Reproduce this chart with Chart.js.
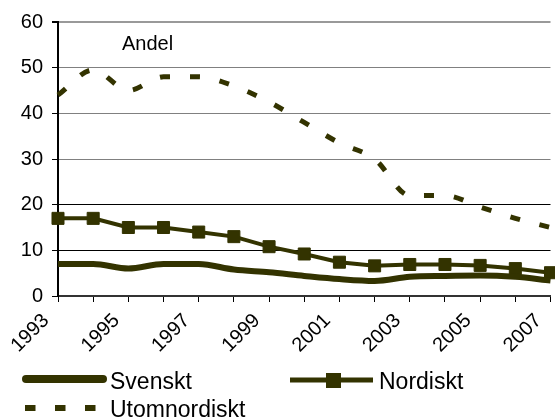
<!DOCTYPE html>
<html>
<head>
<meta charset="utf-8">
<script src="https://cdn.jsdelivr.net/npm/chart.js@4.4.0/dist/chart.umd.min.js"></script>
<style>
  html, body { margin: 0; padding: 0; background: #fff; overflow: hidden; }
  #wrap { position: relative; width: 555px; height: 420px; overflow: hidden; }
  canvas { display: block; }
</style>
</head>
<body>
<div id="wrap"><canvas id="chart" width="560" height="420"></canvas></div>
<script>
// ========== DATA ==========
const years = ['1993', '1994', '1995', '1996', '1997', '1998', '1999', '2000',
               '2001', '2002', '2003', '2004', '2005', '2006', '2007'];
const svenskt = [7, 7, 6, 7, 7, 5.8, 5.2, 4.4, 3.7, 3.3, 4.2, 4.4, 4.5, 4.2, 3.4];
const nordiskt = [17, 17, 15, 15, 14, 13, 10.8, 9.2, 7.4, 6.6, 6.9, 6.9, 6.7, 6.0, 5.1];
const utomnordiskt = [44, 49.5, 45, 48, 48, 46, 42.5, 38, 33.5, 30, 22, 22, 19.5, 17, 15];
const yTicks = [0, 10, 20, 30, 40, 50, 60];
const seriesNames = ['Svenskt', 'Nordiskt', 'Utomnordiskt'];

const OLIVE = '#333300';
const FONT = '"Liberation Sans", Arial, sans-serif';

// ========== PLUGINS ==========
// "Andel" label inside the plot
const andelPlugin = {
    id: 'andel',
    afterDraw(chart) {
        const ctx = chart.ctx;
        ctx.save();
        ctx.font = '20px ' + FONT;
        ctx.fillStyle = '#000';
        ctx.textBaseline = 'alphabetic';
        ctx.fillText('Andel', 122, 50);
        ctx.restore();
    }
};

// legend laid out like the original (two columns, left aligned)
const legendPlugin = {
    id: 'oldLegend',
    afterDraw(chart) {
        const ctx = chart.ctx;
        const ds = chart.data.datasets;
        ctx.save();
        ctx.font = '23px ' + FONT;
        ctx.fillStyle = '#000';
        ctx.textBaseline = 'alphabetic';

        // Svenskt
        ctx.strokeStyle = ds[0].borderColor;
        ctx.lineWidth = 8;
        ctx.lineCap = 'round';
        ctx.beginPath(); ctx.moveTo(26, 379); ctx.lineTo(103, 379); ctx.stroke();
        ctx.fillText(ds[0].label, 110, 389);

        // Nordiskt
        ctx.strokeStyle = ds[1].borderColor;
        ctx.lineWidth = 5;
        ctx.lineCap = 'butt';
        ctx.beginPath(); ctx.moveTo(290, 380); ctx.lineTo(373, 380); ctx.stroke();
        ctx.fillStyle = ds[1].pointBackgroundColor;
        ctx.fillRect(326, 373, 15, 15);
        ctx.fillStyle = '#000';
        ctx.fillText(ds[1].label, 379, 389);

        // Utomnordiskt
        ctx.strokeStyle = ds[2].borderColor;
        ctx.lineWidth = 6;
        ctx.setLineDash([10.5, 19.5]);
        ctx.beginPath(); ctx.moveTo(25, 408); ctx.lineTo(100, 408); ctx.stroke();
        ctx.setLineDash([]);
        ctx.fillText(ds[2].label, 110, 417);
        ctx.restore();
    }
};

// ========== CHART ==========
new Chart(document.getElementById('chart'), {
    type: 'line',
    data: {
        labels: years,
        datasets: [
            {
                label: seriesNames[0],
                data: svenskt,
                borderColor: OLIVE,
                borderWidth: 6,
                cubicInterpolationMode: 'monotone',
                pointRadius: 0,
                clip: false
            },
            {
                label: seriesNames[1],
                data: nordiskt,
                borderColor: OLIVE,
                borderWidth: 4,
                tension: 0,
                pointStyle: 'rect',
                pointRadius: 8.5,
                pointBorderWidth: 1,
                pointBackgroundColor: OLIVE,
                pointBorderColor: OLIVE,
                clip: false
            },
            {
                label: seriesNames[2],
                data: utomnordiskt,
                borderColor: OLIVE,
                borderWidth: 5,
                borderDash: [10, 20],
                borderCapStyle: 'butt',
                cubicInterpolationMode: 'monotone',
                pointRadius: 0,
                clip: false
            }
        ]
    },
    options: {
        responsive: false,
        animation: false,
        devicePixelRatio: 1,
        layout: { padding: { top: 22, right: 1, left: 0, bottom: 0 } },
        plugins: {
            legend: { display: false },
            tooltip: { enabled: false }
        },
        scales: {
            x: {
                offset: false,
                border: { color: '#333', width: 2 },
                grid: {
                    drawOnChartArea: false,
                    drawTicks: true,
                    tickLength: 6,
                    color: '#000',
                    tickColor: '#000'
                },
                ticks: {
                    autoSkip: false,
                    minRotation: 45,
                    maxRotation: 45,
                    padding: 7,
                    labelOffset: -12,
                    color: '#000',
                    font: { family: FONT, size: 20 },
                    callback: (v, i) => i % 2 === 0 ? years[i] : ''
                },
                afterFit: (scale) => {
                    scale.height = 124;
                    scale.paddingLeft = 0;
                    scale.paddingRight = 0;
                }
            },
            y: {
                min: yTicks[0],
                max: yTicks[yTicks.length - 1],
                border: { color: '#000', width: 2 },
                grid: {
                    color: c => c.tick.value === 60 ? '#999' : (c.tick.value <= 20 ? '#000' : '#808080'),
                    lineWidth: c => c.tick.value === 60 ? 2 : 1,
                    tickLength: 6,
                    tickColor: '#000'
                },
                ticks: {
                    stepSize: yTicks[1] - yTicks[0],
                    padding: 9,
                    color: '#000',
                    font: { family: FONT, size: 20 }
                },
                afterFit: (scale) => { scale.width = 58; }
            }
        }
    },
    plugins: [andelPlugin, legendPlugin]
});
</script>
</body>
</html>
